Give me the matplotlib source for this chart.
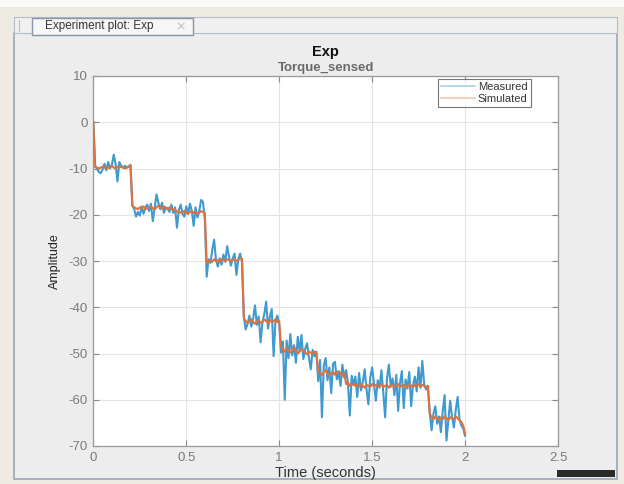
import numpy as np
import matplotlib
matplotlib.use("Agg")
import matplotlib.pyplot as plt
from matplotlib.patches import Rectangle

plt.rcParams['font.family'] = ['Liberation Sans', 'DejaVu Sans']

# ---------------- data ----------------
measured = [
    0.0, -9.6, -10.0, -10.8, -11.0, -10.2, -9.0, -10.4, -8.6, -10.0,
    -9.2, -7.0, -9.0, -12.8, -8.6, -9.4, -9.8, -9.4, -9.8, -9.6,
    -9.2, -18.0, -18.8, -20.4, -19.4, -20.2, -18.2, -19.8, -18.4, -17.8,
    -19.2, -17.6, -21.4, -18.6, -15.6, -17.4, -18.8, -17.4, -19.6, -18.4,
    -18.6, -19.4, -17.8, -19.6, -18.4, -22.8, -19.0, -17.8, -19.8, -20.4,
    -18.2, -19.8, -17.6, -19.2, -22.4, -18.4, -20.6, -19.2, -16.8, -17.2,
    -21.0, -33.4, -29.6, -30.4, -27.6, -25.4, -29.8, -31.2, -29.4, -30.8,
    -28.6, -30.2, -26.8, -29.0, -31.0, -29.4, -28.4, -33.0, -29.6, -28.4,
    -30.2, -42.2, -44.8, -43.6, -41.8, -44.2, -42.4, -39.6, -43.8, -42.0,
    -47.6, -43.2, -41.4, -38.8, -44.6, -42.0, -40.4, -50.6, -43.0, -41.8,
    -43.6, -49.8, -47.4, -60.0, -47.2, -51.0, -45.8, -50.4, -48.2, -52.0,
    -46.4, -49.6, -46.0, -51.2, -49.0, -47.8, -50.8, -53.4, -49.2, -50.6,
    -49.6, -56.0, -51.4, -63.8, -52.6, -51.0, -55.8, -53.0, -58.6, -52.2,
    -51.8, -55.6, -54.0, -57.0, -52.4, -55.2, -53.6, -56.4, -63.4, -54.8,
    -56.8, -55.0, -59.4, -54.2, -58.0, -56.2, -53.4, -57.8, -61.0, -55.2,
    -53.0, -56.6, -60.2, -55.8, -57.4, -53.6, -58.4, -63.8, -55.4, -52.4,
    -57.2, -55.4, -59.0, -54.6, -62.4, -56.4, -53.8, -61.8, -55.6, -57.6,
    -54.0, -61.4, -56.8, -55.0, -58.2, -53.0, -57.4, -51.6, -56.6, -57.8,
    -57.0, -62.8, -66.6, -63.0, -61.4, -65.2, -63.6, -67.0, -62.4, -59.0,
    -68.8, -64.4, -60.2, -63.8, -66.0, -62.2, -59.4, -64.2, -65.6, -66.2,
    -67.8,
]

simulated = [
    0.0, -9.6, -9.8, -10.0, -9.8, -9.6, -9.8, -10.0, -9.8, -9.6,
    -9.4, -9.8, -10.0, -9.6, -9.8, -9.6, -9.8, -10.0, -9.8, -9.6,
    -9.4, -18.0, -18.4, -18.6, -18.8, -18.4, -18.6, -18.2, -18.8, -18.6,
    -18.4, -18.2, -18.6, -18.8, -18.4, -18.0, -18.4, -18.6, -18.2, -18.6,
    -18.8, -18.4, -18.6, -19.0, -18.8, -19.4, -19.2, -19.6, -19.4, -19.2,
    -19.6, -19.8, -19.4, -19.2, -19.6, -19.4, -19.8, -19.6, -19.2, -19.4,
    -19.6, -30.4, -30.0, -29.8, -30.2, -29.6, -30.0, -29.8, -30.2, -29.6,
    -29.8, -30.0, -29.6, -29.8, -30.0, -29.8, -29.6, -30.0, -29.8, -29.4,
    -29.6, -42.4, -43.0, -43.4, -43.0, -42.6, -43.2, -43.6, -43.0, -42.8,
    -43.4, -43.2, -42.6, -43.0, -43.4, -42.8, -43.2, -43.0, -42.6, -43.2,
    -43.0, -48.6, -49.2, -49.6, -48.8, -49.4, -49.8, -49.2, -48.6, -49.4,
    -50.0, -49.6, -49.0, -49.4, -49.8, -50.2, -49.6, -49.8, -50.0, -49.6,
    -50.0, -53.8, -54.2, -54.6, -54.0, -53.6, -54.4, -54.8, -54.2, -54.0,
    -54.6, -54.2, -53.8, -54.4, -54.8, -54.2, -56.6, -56.2, -57.0, -56.8,
    -56.6, -57.0, -56.8, -57.2, -56.6, -57.0, -57.4, -56.8, -57.0, -57.2,
    -56.6, -57.0, -56.8, -57.2, -57.0, -56.6, -57.2, -57.0, -56.8, -57.4,
    -57.0, -56.8, -57.2, -57.0, -56.6, -57.2, -57.0, -56.8, -57.4, -57.0,
    -56.6, -57.0, -57.2, -56.8, -57.0, -56.6, -57.2, -56.8, -57.0, -57.4,
    -57.0, -63.0, -63.8, -64.2, -63.6, -64.0, -64.4, -63.8, -64.2, -63.6,
    -64.0, -64.4, -63.8, -64.0, -64.2, -63.6, -64.0, -64.4, -64.8, -65.6,
    -67.4,
]

t_end = 2.0
x_ticks = [0, 0.5, 1, 1.5, 2, 2.5]
x_ticklabels = ['0', '0.5', '1', '1.5', '2', '2.5']
y_ticks = [10, 0, -10, -20, -30, -40, -50, -60, -70]
y_ticklabels = ['10', '0', '-10', '-20', '-30', '-40', '-50', '-60', '-70']
series_names = ['Measured', 'Simulated']

# ---------------- figure ----------------
W, H = 624, 484
fig = plt.figure(figsize=(W / 100, H / 100), dpi=100)
fig.patch.set_facecolor('#eeebe2')

# background axes in pixel coordinates (top-left origin) for the window chrome
bg = fig.add_axes([0, 0, 1, 1], zorder=-10)
bg.set_xlim(0, W)
bg.set_ylim(H, 0)
bg.axis('off')


def rect(x0, y0, x1, y1, **kw):
    bg.add_patch(Rectangle((x0, y0), x1 - x0, y1 - y0, **kw))


rect(0, 0, W, 7, facecolor='#fbfbfa', edgecolor='none')
rect(14, 33, 617, 479, facecolor='#ededed', edgecolor='#9aa6b8', linewidth=1.2)
rect(14, 17, 617, 33, facecolor='#f0f0f0', edgecolor='#b4bcc8', linewidth=0.8)
rect(32, 18, 193, 35, facecolor='#f6f6f6', edgecolor='#8a96a8', linewidth=1.0)
bg.text(45, 26.5, 'Experiment plot: Exp', fontsize=8.5, color='#333333',
        ha='left', va='center')
bg.text(181, 26.5, '\u00d7', fontsize=9, color='#bbbbbb',
        ha='center', va='center', family=['DejaVu Sans'])
bg.plot([19, 19], [20, 31], color='#c0c0c0', linewidth=0.8)
rect(557, 470, 615, 477, facecolor='#2a2a2a', edgecolor='none')

# ---------------- axes ----------------
ax_l, ax_r, ax_t, ax_b = 93.3, 558, 76, 446
ax = fig.add_axes([ax_l / W, 1 - ax_b / H, (ax_r - ax_l) / W, (ax_b - ax_t) / H],
                  zorder=1)
ax.set_facecolor('#ffffff')

t = np.linspace(0, t_end, len(measured))
ts = np.linspace(0, t_end, len(simulated))
ax.plot(t, measured, color='#3f9ad0', linewidth=1.5, label=series_names[0], zorder=3)
ax.plot(ts, simulated, color='#e0703c', linewidth=1.5, label=series_names[1], zorder=4)

ax.set_xlim(0, 2.5)
ax.set_ylim(-70, 10)
ax.set_xticks(x_ticks)
ax.set_xticklabels(x_ticklabels)
ax.set_yticks(y_ticks)
ax.set_yticklabels(y_ticklabels)
ax.grid(True, color='#e3e3e3', linewidth=0.8)
ax.set_axisbelow(True)
ax.tick_params(direction='in', top=True, right=True, length=4, width=0.8,
               colors='#8a8a8a', labelsize=9.5, labelcolor='#7a7a7a', pad=4)
for s in ax.spines.values():
    s.set_color('#9a9a9a')
    s.set_linewidth(0.9)

ax.set_xlabel('Time (seconds)', fontsize=10.5, color='#333333', labelpad=2)
ax.set_ylabel('Amplitude', fontsize=9, color='#222222', labelpad=5)

cx = (ax_l + ax_r) / 2
bg.text(cx, 52, 'Exp', fontsize=10.5, fontweight='bold',
        color='#111111', ha='center', va='center')
bg.text(cx, 68, 'Torque_sensed', fontsize=9.5,
        fontweight='bold', color='#6a6a6a', ha='center', va='center')

leg = ax.legend(loc='upper right', bbox_to_anchor=(531 / W, 1 - 79 / H),
                bbox_transform=fig.transFigure, fontsize=8.0, frameon=True,
                fancybox=False, handlelength=3.0, handletextpad=0.3,
                borderpad=0.3, labelspacing=0.15, borderaxespad=0)
leg.get_frame().set_edgecolor('#555555')
leg.get_frame().set_linewidth(0.8)
leg.get_frame().set_facecolor('white')
for line, c in zip(leg.get_lines(), ['#a8d4e4', '#f0c8a8']):
    line.set_color(c)
    line.set_linewidth(1.2)
for txt in leg.get_texts():
    txt.set_color('#333333')

fig.savefig('out.png', dpi=100, facecolor=fig.get_facecolor())
